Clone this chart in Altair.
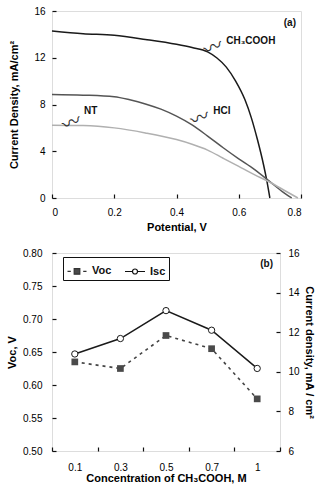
import altair as alt
import pandas as pd

# ---------------- (a) J-V curves ----------------
v_ch3cooh = [0, 0.1, 0.2, 0.3, 0.4, 0.45, 0.5, 0.53, 0.56, 0.59, 0.62, 0.64, 0.66, 0.68, 0.69, 0.70]
j_ch3cooh = [14.29, 14.06, 13.92, 13.57, 13.15, 12.87, 12.5, 11.98, 11.2, 10.0, 8.4, 6.9, 5.0, 2.8, 1.5, 0.0]

v_hcl = [0, 0.1, 0.2, 0.25, 0.3, 0.35, 0.4, 0.45, 0.5, 0.55, 0.6, 0.65, 0.7, 0.74, 0.77]
j_hcl = [8.86, 8.8, 8.66, 8.4, 8.05, 7.6, 7.0, 6.25, 5.3, 4.3, 3.35, 2.45, 1.4, 0.55, 0.0]

v_nt = [0, 0.1, 0.2, 0.3, 0.4, 0.45, 0.5, 0.55, 0.6, 0.65, 0.7, 0.75, 0.79]
j_nt = [6.23, 6.2, 6.0, 5.57, 5.0, 4.6, 4.1, 3.4, 2.7, 2.0, 1.35, 0.6, 0.0]

curve_names = ["CH₃COOH", "HCl", "NT"]
curve_colors = ["#1a1a1a", "#555555", "#b0b0b0"]

# ---------------- (b) Voc / Isc vs concentration ----------------
concentration = ["0.1", "0.3", "0.5", "0.7", "1"]
voc = [0.635, 0.625, 0.675, 0.655, 0.579]
isc = [10.9, 11.68, 13.09, 12.1, 10.17]

FONT = "Liberation Sans"

rows = []
for name, vs, js in [("CH₃COOH", v_ch3cooh, j_ch3cooh), ("HCl", v_hcl, j_hcl), ("NT", v_nt, j_nt)]:
    for i, (v, j) in enumerate(zip(vs, js)):
        rows.append({"series": name, "V": v, "J": j, "order": i})
jv = pd.DataFrame(rows)

# curve labels with wavy leaders (data coordinates)
labels = pd.DataFrame({
    "text": ["CH₃COOH", "HCl", "NT"],
    "V": [0.56, 0.518, 0.103],
    "J": [13.45, 7.45, 7.45],
    "lv": [0.518, 0.476, 0.064],
    "lj": [12.85, 6.8, 6.4],
})

# inward ticks: axis pulled 4px into the plot, ticks pointing back out to the frame
inward = dict(offset=-4, ticks=True, tickSize=4, tickWidth=1.2, tickColor="#111", domain=False, grid=False)

x_a = alt.X("V:Q", scale=alt.Scale(domain=[0, 0.8], nice=False),
            axis=alt.Axis(title="Potential, V", values=[0, 0.1, 0.2, 0.3, 0.4, 0.5, 0.6, 0.7, 0.8],
                          labelExpr="datum.value == 0 ? '0' : format(datum.value, '.1f')",
                          labelPadding=9, titlePadding=4, **inward))
y_a = alt.Y("J:Q", scale=alt.Scale(domain=[0, 16], nice=False),
            axis=alt.Axis(title="Current Density, mA/cm²", values=[0, 4, 8, 12, 16],
                          labelPadding=7, titlePadding=14, **inward))

lines_a = alt.Chart(jv).mark_line(strokeWidth=1.5, interpolate="monotone").encode(
    x=x_a, y=y_a, order="order:Q",
    color=alt.Color("series:N", scale=alt.Scale(domain=curve_names, range=curve_colors), legend=None),
)
text_a = alt.Chart(labels).mark_text(align="left", baseline="middle", font=FONT,
                                     fontWeight="bold", fontSize=10, color="#111").encode(
    x="V:Q", y="J:Q", text="text:N")
squiggle_a = alt.Chart(labels).mark_text(align="center", baseline="middle", font="Noto Sans CJK JP",
                                         fontSize=19, angle=338, color="#333").encode(
    x="lv:Q", y="lj:Q", text=alt.value("〰"))
tag_a = alt.Chart(pd.DataFrame({"t": ["(a)"]})).mark_text(
    font=FONT, fontWeight="bold", fontSize=10, align="right", baseline="top", color="#111"
).encode(x=alt.value(244), y=alt.value(7), text="t:N")

panel_a = alt.layer(lines_a, text_a, squiggle_a, tag_a).properties(width=249, height=187)

# ---------------- panel (b) ----------------
perf = pd.DataFrame({"conc": concentration, "Voc": voc, "Isc": isc})

x_b = alt.X("conc:O", sort=concentration,
            scale=alt.Scale(paddingInner=0, paddingOuter=0),
            axis=alt.Axis(title="Concentration of CH₃COOH, M", labelAngle=0, tickBand="extent",
                          labelPadding=11, titlePadding=0, **inward))
y_voc = alt.Y("Voc:Q", scale=alt.Scale(domain=[0.5, 0.8], nice=False),
              axis=alt.Axis(title="Voc, V", format=".2f", values=[0.5, 0.55, 0.6, 0.65, 0.7, 0.75, 0.8],
                            labelPadding=10, titlePadding=5, **inward))
y_isc = alt.Y("Isc:Q", scale=alt.Scale(domain=[6, 16], nice=False),
              axis=alt.Axis(title="Current density, mA / cm²", orient="right", values=[6, 8, 10, 12, 14, 16],
                            labelPadding=8, titlePadding=4, **inward))

voc_line = alt.Chart(perf).mark_line(color="#444", strokeWidth=1.6, strokeDash=[3, 4]).encode(x=x_b, y=y_voc)
voc_pts = alt.Chart(perf).mark_point(shape="square", filled=True, size=45, color="#4a4a4a", opacity=1).encode(x=x_b, y=y_voc)
isc_line = alt.Chart(perf).mark_line(color="#1a1a1a", strokeWidth=1.5).encode(x=x_b, y=y_isc)
isc_pts = alt.Chart(perf).mark_point(shape="circle", filled=True, size=40, fill="white",
                                     stroke="#1a1a1a", strokeWidth=1, opacity=1).encode(x=x_b, y=y_isc)

# legend-only layer: no rows, explicit domains
series_names = ["Voc", "Isc"]
sym_voc = "M-0.95,0H-0.62M0.62,0H0.95M-0.28,-0.28H0.28V0.28H-0.28Z"
sym_isc = "M-1,0H-0.25M0.25,0H1M0.25,0A0.25,0.25 0 1,1 -0.25,0A0.25,0.25 0 1,1 0.25,0Z"
leg = alt.Legend(title=None, orient="none", legendX=11, legendY=4, direction="horizontal",
                 symbolSize=400, symbolStrokeWidth=1.2, symbolOpacity=1,
                 labelFont=FONT, labelFontWeight="bold", labelFontSize=11,
                 labelColor="#111", labelOffset=4, columnPadding=10,
                 strokeColor="#111", fillColor="white", padding=3)
legend_layer = alt.Chart(perf).transform_filter("false").transform_calculate(
    series="'Voc'").mark_point(filled=True, opacity=1, strokeWidth=1.2).encode(
    x=x_b, y=y_voc,
    shape=alt.Shape("series:N", scale=alt.Scale(domain=series_names, range=[sym_voc, sym_isc]), legend=leg),
    fill=alt.Fill("series:N", scale=alt.Scale(domain=series_names, range=["#4a4a4a", "white"]), legend=leg),
    stroke=alt.Stroke("series:N", scale=alt.Scale(domain=series_names, range=["#333333", "#111111"]), legend=leg),
)

tag_b = alt.Chart(pd.DataFrame({"t": ["(b)"]})).mark_text(
    font=FONT, fontWeight="bold", fontSize=10, align="right", baseline="top", color="#111"
).encode(x=alt.value(221), y=alt.value(6), text="t:N")

left_b = alt.layer(voc_line, voc_pts, legend_layer)
right_b = alt.layer(isc_line, isc_pts)
panel_b = alt.layer(left_b, right_b, tag_b).resolve_scale(y="independent").properties(width=228, height=198)

chart = alt.concat(panel_a, panel_b, columns=1, spacing=14, align="none").resolve_legend(
    shape="independent", fill="independent", stroke="independent"
).properties(
    padding={"left": 6, "top": 5, "right": 2, "bottom": 2}
).configure_view(stroke="#111", strokeWidth=1.3).configure_axis(
    labelFont=FONT, labelFontWeight="bold", labelFontSize=10, labelColor="#111",
    titleFont=FONT, titleFontWeight="bold", titleFontSize=10, titleColor="#111",
).configure_legend(strokeWidth=1.5).configure(background="white")

chart.save("out.html", embed_options={"renderer": "svg", "actions": False})
